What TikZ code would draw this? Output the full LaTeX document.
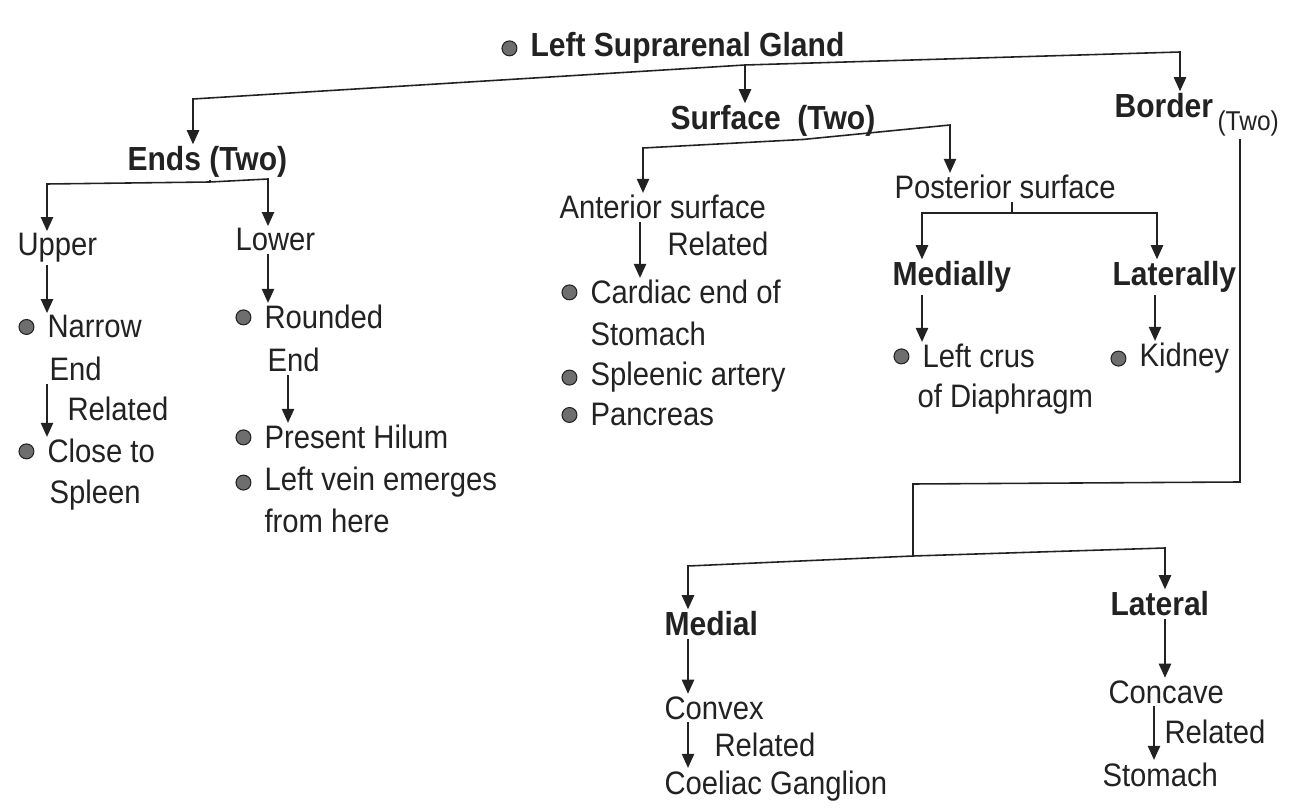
\documentclass[tikz,border=0pt]{standalone}
\usepackage{fontspec}
\setmainfont{Liberation Sans}[FakeStretch=0.9]
\usetikzlibrary{arrows.meta}
\definecolor{ink}{HTML}{222222}
\definecolor{dotc}{HTML}{6E6E6E}

\begin{document}
\begin{tikzpicture}[x=0.02cm, y=-0.02cm, line width=0.9pt, color=ink,
    tx/.style={anchor=base west, inner sep=1pt, font=\fontsize{18.5}{22}\selectfont},
    hd/.style={tx, font=\fontsize{19}{22}\selectfont\bfseries},
    dot/.style={circle, fill=dotc, draw=ink, line width=0.6pt, inner sep=0pt, minimum size=8.5pt, xshift=-6pt},
    bul/.style={label={[dot]left:{}}},
    arr/.style={-{Triangle[length=8pt,width=7pt]}}]
    \useasboundingbox (0,0) rectangle (1295,810);
    \node[hd, bul] (root) at (528,57) {Left Suprarenal Gland};
    \node[hd] (ends) at (125,171) {Ends (Two)};
    \node[hd] (surf) at (668,130) {Surface\ \ (Two)};
    \node[hd] (bord) at (1112,118) {Border};
    \node[tx, font=\fontsize{15.5}{18}\selectfont] (bordtwo) at (1215,131) {(Two)};
    \node[tx] (upper) at (15,256) {Upper};
    \node[tx, bul] (narrow) at (45,338) {Narrow};
    \node[tx] (narrowend) at (47,381) {End};
    \node[tx] (rel1) at (65,421) {Related};
    \node[tx, bul] (close) at (45,463) {Close to};
    \node[tx] (spleen) at (47,504) {Spleen};
    \node[tx] (lower) at (233,251) {Lower};
    \node[tx, bul] (rounded) at (262,329) {Rounded};
    \node[tx] (roundedend) at (265,372) {End};
    \node[tx, bul] (hilum) at (262,449) {Present Hilum};
    \node[tx, bul] (vein) at (262,491) {Left vein emerges};
    \node[tx] (veinb) at (262,533) {from here};
    \node[tx] (ant) at (557,219) {Anterior surface};
    \node[tx] (rel2) at (665,256) {Related};
    \node[tx, bul] (cardiac) at (588,304) {Cardiac end of};
    \node[tx] (cardiacb) at (588,346) {Stomach};
    \node[tx, bul] (artery) at (588,386) {Spleenic artery};
    \node[tx, bul] (pancreas) at (588,426) {Pancreas};
    \node[tx] (post) at (892,199) {Posterior surface};
    \node[hd] (medially) at (890,286) {Medially};
    \node[hd] (laterally) at (1110,286) {Laterally};
    \node[tx, bul] (crus) at (920,368) {Left crus};
    \node[tx] (crusb) at (915,408) {of Diaphragm};
    \node[tx, bul] (kidney) at (1137,367) {Kidney};
    \node[hd] (medial) at (662,636) {Medial};
    \node[hd] (lateral) at (1108,616) {Lateral};
    \node[tx] (convex) at (662,719) {Convex};
    \node[tx] (rel3) at (712,756) {Related};
    \node[tx] (coeliac) at (662,794) {Coeliac Ganglion};
    \node[tx] (concave) at (1106,703) {Concave};
    \node[tx] (rel4) at (1162,743) {Related};
    \node[tx] (stomach) at (1100,786) {Stomach};
    \coordinate (rootbus) at (745,65);
    \coordinate (rootl) at (193,99);
    \coordinate (rootr) at (1180,52);
    \draw[arr] (rootbus) -- (surf.north -| rootbus);
    \draw[arr] (rootbus) -- (rootl) -- (ends.north -| rootl);
    \draw[arr] (rootbus) -- (rootr) -- (bord.north -| rootr);
    \coordinate (endsbus) at (210,182);
    \draw (ends.south -| endsbus) -- (endsbus);
    \draw[arr] (endsbus) -- (47,184) -- (upper.north -| 47,0);
    \draw[arr] (endsbus) -- (268,179) -- (lower.north -| 268,0);
    \draw[arr] (upper.south -| 47,0) -- (narrow.north -| 47,0);
    \draw[arr] (narrowend.south -| 47,0) -- (close.north -| 47,0);
    \draw[arr] (lower.south -| 268,0) -- (rounded.north -| 268,0);
    \draw[arr] (roundedend.south -| 288,0) -- (hilum.north -| 288,0);
    \coordinate (surfbus) at (803,137);
    \draw[arr] (surf.south -| surfbus) -- (643,148) -- (ant.north -| 643,0);
    \draw[arr] (surf.south -| surfbus) -- (950,125) -- (post.north -| 950,0);
    \draw[arr] (ant.south -| 640,0) -- (cardiac.north -| 640,0);
    \coordinate (postbus) at (1012,213);
    \draw (post.south -| postbus) -- (postbus);
    \draw[arr] (postbus) -| (medially.north -| 922,0);
    \draw[arr] (postbus) -| (laterally.north -| 1157,0);
    \draw[arr] (medially.south -| 922,0) -- (crus.north -| 922,0);
    \draw[arr] (laterally.south -| 1155,0) -- (kidney.north -| 1155,0);
    \coordinate (bordbend) at (1240,482);
    \coordinate (bordbus) at (913,556);
    \draw (bordtwo.south -| bordbend) -- (bordbend) -- (913,484) -- (bordbus);
    \draw[arr] (bordbus) -- (688,566) -- (medial.north -| 688,0);
    \draw[arr] (bordbus) -- (1165,548) -- (lateral.north -| 1165,0);
    \draw[arr] (medial.south -| 688,0) -- (convex.north -| 688,0);
    \draw[arr] (convex.south -| 688,0) -- (coeliac.north -| 688,0);
    \draw[arr] (lateral.south -| 1165,0) -- (concave.north -| 1165,0);
    \draw[arr] (concave.south -| 1154,0) -- (stomach.north -| 1154,0);
\end{tikzpicture}
\end{document}
